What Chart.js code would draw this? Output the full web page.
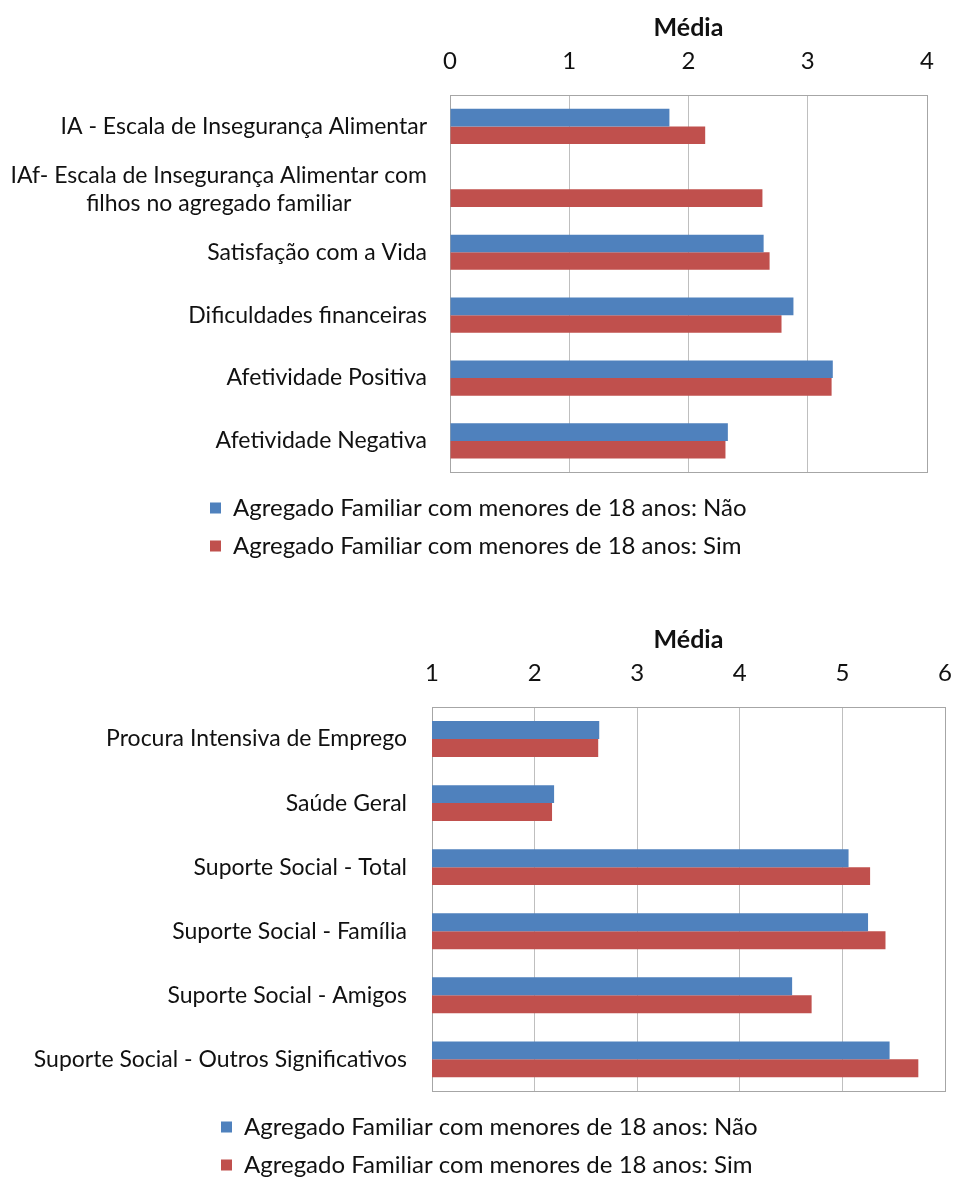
<!DOCTYPE html>
<html>
<head>
<meta charset="utf-8">
<title>Médias por agregado familiar</title>
<script src="https://cdn.jsdelivr.net/npm/chart.js@4.4.1/dist/chart.umd.min.js"></script>
<style>
  html, body { margin: 0; padding: 0; background: #fff; overflow: hidden; }
  body { width: 954px; height: 1178px; position: relative; }
  .box { position: absolute; left: 0; }
</style>
</head>
<body>
<div class="box" style="top:0;width:960px;height:575px"><canvas id="chartTop"></canvas></div>
<div class="box" style="top:612px;width:988px;height:580px"><canvas id="chartBottom"></canvas></div>
<script>
const seriesNames = [
  "Agregado Familiar com menores de 18 anos: Não",
  "Agregado Familiar com menores de 18 anos: Sim"
];
const axisTitle = "Média";

// first chart: food insecurity, wellbeing and affect
const topCategories = [
  "IA - Escala de Insegurança Alimentar",
  ["IAf- Escala de Insegurança Alimentar com", "filhos no agregado familiar"],
  "Satisfação com a Vida",
  "Dificuldades financeiras",
  "Afetividade Positiva",
  "Afetividade Negativa"
];
const topNao = [1.84, null, 2.63, 2.88, 3.21, 2.33];
const topSim = [2.14, 2.62, 2.68, 2.78, 3.20, 2.31];
const topTicks = [0, 1, 2, 3, 4];

// second chart: job search, health and social support
const bottomCategories = [
  "Procura Intensiva de Emprego",
  "Saúde Geral",
  "Suporte Social - Total",
  "Suporte Social - Família",
  "Suporte Social - Amigos",
  "Suporte Social - Outros Significativos"
];
const bottomNao = [2.63, 2.19, 5.06, 5.25, 4.51, 5.46];
const bottomSim = [2.62, 2.17, 5.27, 5.42, 4.70, 5.74];
const bottomTicks = [1, 2, 3, 4, 5, 6];

const FONT = "Lato, 'Open Sans', sans-serif";
const BLUE = "#4F81BD";
const RED = "#C0504D";
const LEGEND_PAD = 14;

// category labels: right-aligned as a block, lines centred inside it
const sideLabels = {
  id: "sideLabels",
  afterDraw(chart, args, opts) {
    const y = chart.scales.y;
    const ctx = chart.ctx;
    const right = chart.chartArea.left - opts.gap;
    ctx.save();
    ctx.font = opts.font;
    ctx.fillStyle = opts.color;
    ctx.textAlign = "center";
    ctx.textBaseline = "middle";
    chart.data.labels.forEach((label, i) => {
      const lines = [].concat(label);
      const w = Math.max(...lines.map(l => ctx.measureText(l).width));
      const cy = y.getPixelForValue(i);
      lines.forEach((line, j) => {
        ctx.fillText(line, right - w / 2, cy + (j - (lines.length - 1) / 2) * opts.lineHeight);
      });
    });
    ctx.restore();
  }
};

// box round the plot area
const plotFrame = {
  id: "plotFrame",
  beforeDatasetsDraw(chart, args, opts) {
    const { left, top, right, bottom } = chart.chartArea;
    const ctx = chart.ctx;
    ctx.save();
    ctx.strokeStyle = opts.color;
    ctx.lineWidth = 1;
    ctx.strokeRect(Math.round(left) + 0.5, Math.round(top) + 0.5,
      Math.round(right - left), Math.round(bottom - top));
    ctx.restore();
  }
};

// plotLeft: x of the value axis start; legendX: x of the legend swatches
function makeChart(id, categories, nao, sim, ticks, plotLeft, legendX, rightPad, bottomPad, gap) {
  const padLeft = legendX - LEGEND_PAD;
  const ctx = document.getElementById(id).getContext("2d");
  return new Chart(ctx, {
    type: "bar",
    data: {
      labels: categories,
      datasets: [
        { label: seriesNames[0], data: nao, backgroundColor: BLUE, borderWidth: 0 },
        { label: seriesNames[1], data: sim, backgroundColor: RED, borderWidth: 0 }
      ]
    },
    options: {
      indexAxis: "y",
      responsive: true,
      maintainAspectRatio: false,
      animation: false,
      categoryPercentage: 0.56,
      barPercentage: 1.0,
      layout: { padding: { left: padLeft, top: 0, right: rightPad, bottom: bottomPad } },
      scales: {
        x: {
          position: "top",
          min: ticks[0],
          max: ticks[ticks.length - 1],
          afterBuildTicks: (scale) => { scale.ticks = ticks.map(v => ({ value: v })); },
          afterFit: (scale) => { scale.height = 95; },
          grid: { color: "#BFBFBF", lineWidth: 1, drawTicks: false },
          border: { display: false },
          ticks: { padding: 19, color: "#111", font: { family: FONT, size: 24 } },
          title: {
            display: true,
            text: axisTitle,
            color: "#111",
            padding: { top: 13, bottom: 0 },
            font: { family: FONT, size: 25, weight: "bold" }
          }
        },
        y: {
          afterFit: (scale) => { scale.width = plotLeft - padLeft; },
          grid: { display: false },
          border: { display: false },
          ticks: { display: false }
        }
      },
      plugins: {
        tooltip: { enabled: false },
        legend: {
          position: "bottom",
          align: "start",
          title: { display: true, text: "", padding: 0, font: { size: 8 } },
          labels: {
            boxWidth: 11,
            boxHeight: 11,
            padding: LEGEND_PAD,
            color: "#111",
            font: { family: FONT, size: 24 }
          }
        },
        sideLabels: { gap: gap, font: "23px " + FONT, color: "#111", lineHeight: 28 },
        plotFrame: { color: "#A6A6A6" }
      }
    },
    plugins: [sideLabels, plotFrame]
  });
}

makeChart("chartTop", topCategories, topNao, topSim, topTicks, 450, 210, 33, 7, 23);
makeChart("chartBottom", bottomCategories, bottomNao, bottomSim, bottomTicks, 432, 221, 43, 5, 25);
</script>
</body>
</html>
